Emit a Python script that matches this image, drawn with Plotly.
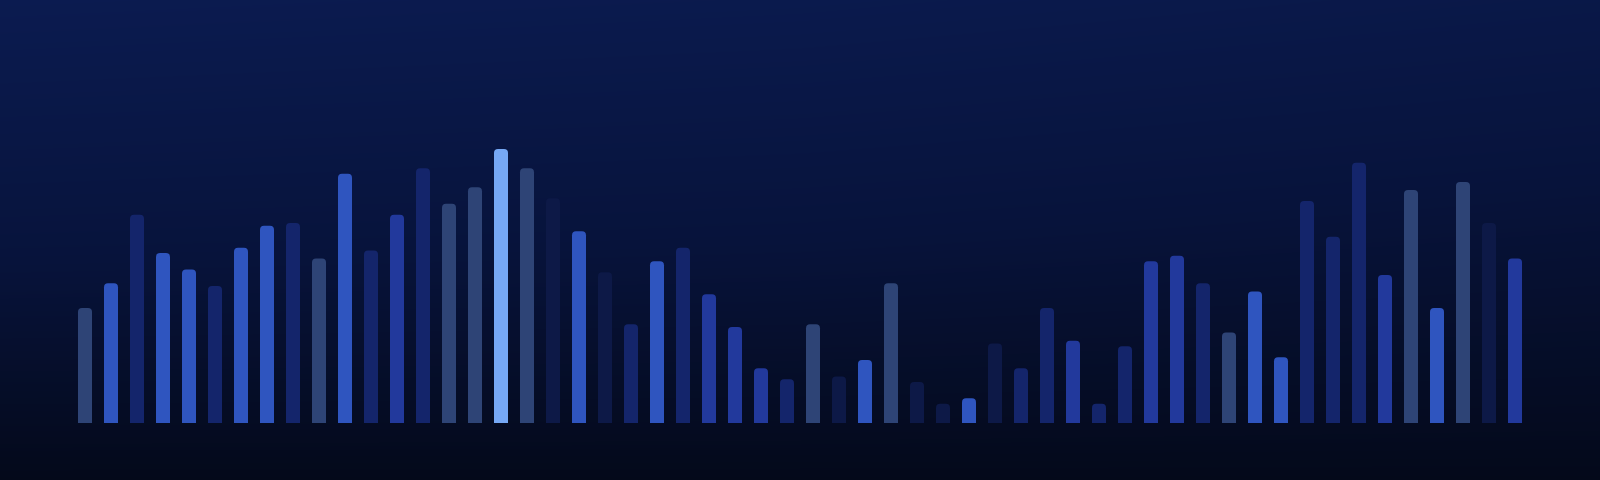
import plotly.graph_objects as go

# ---- data ----
categories = list(range(1, 57))
values = [42, 51, 76, 62, 56, 50, 64, 72, 73, 60,
          91, 63, 76, 93, 80, 86, 100, 93, 82, 70,
          55, 36, 59, 64, 47, 35, 20, 16, 36, 17,
          23, 51, 15, 7, 9, 29, 20, 42, 30, 7,
          28, 59, 61, 51, 33, 48, 24, 81, 68, 95,
          54, 85, 42, 88, 73, 60]
tones = ["slate", "bright", "navy", "bright", "bright", "navy", "bright", "bright", "navy", "slate",
         "bright", "navy", "medium", "navy", "slate", "slate", "highlight", "slate", "deep", "bright",
         "deep", "navy", "bright", "navy", "medium", "medium", "medium", "navy", "slate", "deep",
         "bright", "slate", "deep", "deep", "bright", "deep", "navy", "navy", "medium", "navy",
         "navy", "medium", "medium", "navy", "slate", "bright", "bright", "navy", "navy", "navy",
         "medium", "slate", "bright", "slate", "deep", "medium"]

palette = {
    "bright": "#2f55bf",
    "slate": "#2e4476",
    "navy": "#14256b",
    "medium": "#22399c",
    "deep": "#0d1947",
    "highlight": "#76a8f5",
}
bar_colors = [palette[t] for t in tones]

# ---- geometry ----
W, H = 1600, 480
step_px = 26.0
first_px = 85
x0 = -first_px / step_px
x1 = x0 + W / step_px
base_px = 423
px_per_unit = 2.74
y_top = base_px / px_per_unit
y_bot = -(H - base_px) / px_per_unit

fig = go.Figure()

# background gradient as a smooth heatmap
bg_x = [x0, (x0 + x1) / 2, x1]
bg_y = [y_bot, y_bot + (y_top - y_bot) * 0.5, y_top]
bg_z = [[0.00, 0.00, 0.00],
        [0.55, 0.50, 0.40],
        [1.00, 0.93, 0.80]]
fig.add_trace(go.Heatmap(
    x=bg_x, y=bg_y, z=bg_z, zsmooth="best", showscale=False, hoverinfo="skip",
    colorscale=[[0.0, "#04091a"], [0.5, "#07133b"], [1.0, "#0b1b50"]],
    zmin=0, zmax=1,
))

fig.add_trace(go.Bar(
    x=[c - 1 for c in categories], y=values,
    marker=dict(color=bar_colors, line=dict(width=0), cornerradius=4),
    width=14 / step_px,
    hoverinfo="skip",
))

fig.update_layout(
    width=W, height=H,
    margin=dict(l=0, r=0, t=0, b=0),
    paper_bgcolor="#050a1c",
    plot_bgcolor="rgba(0,0,0,0)",
    showlegend=False,
    xaxis=dict(range=[x0, x1], visible=False, showgrid=False, zeroline=False),
    yaxis=dict(range=[y_bot, y_top], visible=False, showgrid=False, zeroline=False),
)

fig.write_html(
    "out.html",
    config={"displayModeBar": False},
    post_script="document.body.style.margin='0';document.body.style.background='#050a1c';",
)
